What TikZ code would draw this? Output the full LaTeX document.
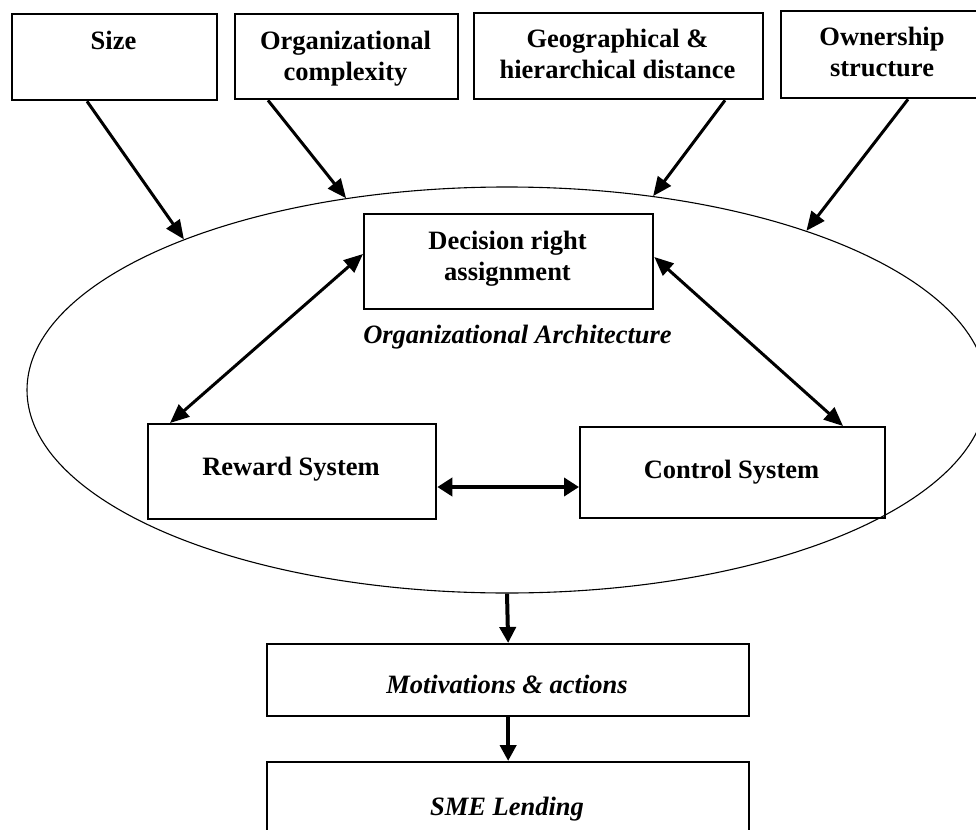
\documentclass[tikz,border=0pt]{standalone}
\usepackage{fontspec}
\setmainfont{Liberation Serif}
\usetikzlibrary{arrows.meta,shapes.geometric,calc}
\begin{document}
\begin{tikzpicture}[x=1pt,y=-1pt,
  box/.style={draw,line width=2.3pt,rectangle,inner sep=0pt,anchor=north west},
  lbl/.style={font=\fontsize{26.5}{31}\selectfont\bfseries,align=center,inner sep=0pt,anchor=base},
  ilbl/.style={font=\fontsize{26.5}{31}\selectfont\bfseries\itshape,inner sep=0pt,anchor=base},
  arr/.style={line width=3pt,-{Triangle[length=19pt,width=16pt]}},
  darr/.style={line width=3pt,{Triangle[length=19pt,width=16pt]}-{Triangle[length=19pt,width=16pt]}},
  harr/.style={line width=4pt,{Triangle[length=15pt,width=18pt]}-{Triangle[length=15pt,width=18pt]}},
  varr/.style={line width=4pt,-{Triangle[length=16pt,width=16pt]}}]
\useasboundingbox (0,0) rectangle (976,829);

% organizational architecture ellipse
\node[draw,ellipse,line width=1.1pt,minimum width=960pt,minimum height=406pt,inner sep=0pt] (arch) at (507,390) {};

% determinants on top (multi-line labels are placed by their last baseline)
\node[box,minimum width=205pt,minimum height=86pt] (size) at (11,13) {};
\node[lbl] (sizet) at (113.5,50) {Size};
\node[box,minimum width=223pt,minimum height=85pt] (org) at (234,13) {};
\node[lbl] (orgt) at (345.5,81) {Organizational\\complexity};
\node[box,minimum width=289pt,minimum height=86pt] (geo) at (473,12) {};
\node[lbl] (geot) at (617.5,79) {Geographical \&\\hierarchical distance};
\node[box,minimum width=210pt,minimum height=87pt] (own) at (780,10) {};
\node[lbl] (ownt) at (882,77) {Ownership\\structure};

% inner components
\node[box,minimum width=289pt,minimum height=95pt] (dec) at (363,213) {};
\node[lbl] (dect) at (507.5,280) {Decision right\\assignment};
\node[ilbl] (archt) at (517.5,343) {Organizational Architecture};
\node[box,minimum width=288pt,minimum height=95pt] (rew) at (147,423) {};
\node[lbl] (rewt) at (291,475) {Reward System};
\node[box,minimum width=305pt,minimum height=91pt] (ctl) at (579,426) {};
\node[lbl] (ctlt) at (731.5,478) {Control System};

% outcomes
\node[box,minimum width=482pt,minimum height=72pt] (mot) at (266,643) {};
\node[ilbl] (mott) at (507,693) {Motivations \& actions};
\node[box,minimum width=482pt,minimum height=80pt] (sme) at (266,761) {};
\node[ilbl] (smet) at (507,815) {SME Lending};

% influences on the architecture
\draw[arr] ($(size.south west)+(76,0)$) -- (arch.155.4);
\draw[arr] ($(org.south west)+(34,0)$) -- (arch.130.8);
\draw[arr] ($(geo.south west)+(252,0)$) -- (arch.53.6);
\draw[arr] ($(own.south west)+(128,0)$) -- (arch.28.5);

% links inside the architecture
\draw[darr] ($(dec.north west)+(0,41)$) -- ($(rew.north west)+(23,0)$);
\draw[darr] ($(dec.north east)+(0,44)$) -- ($(ctl.north west)+(264,0)$);
\draw[harr] ($(rew.north east)+(0,64)$) -- ($(ctl.north west)+(0,61)$);

% downstream flow
\draw[varr] (arch.south) -- (mot.north);
\draw[varr] (mot.south) -- (sme.north);
\end{tikzpicture}
\end{document}
